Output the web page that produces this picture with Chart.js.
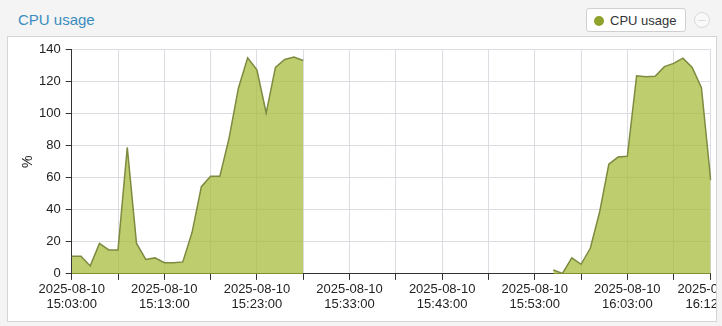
<!DOCTYPE html>
<html>
<head>
<meta charset="utf-8">
<title>CPU usage</title>
<script src="https://cdn.jsdelivr.net/npm/chart.js@4/dist/chart.umd.min.js"></script>
<style>
  html, body { margin: 0; padding: 0; }
  body {
    width: 722px; height: 326px; overflow: hidden; position: relative;
    background: #f4f4f4;
    font-family: "Liberation Sans", Arial, sans-serif;
  }
  .chart-title {
    position: absolute; left: 18px; top: 12px;
    font-size: 15px; line-height: 15px; color: #3a8cc0;
  }
  .legend {
    position: absolute; left: 586px; top: 8px; width: 100px; height: 24px;
    box-sizing: border-box; border: 1px solid #cfcfcf; border-radius: 3px;
    background: #fff; font-size: 13px; color: #333;
    display: flex; align-items: center;
  }
  .legend-item { display: flex; align-items: center; padding-left: 7px; }
  .legend-dot { width: 10px; height: 10px; border-radius: 50%; margin-right: 6px; margin-top: 2px; }
  .collapse-btn {
    position: absolute; left: 694px; top: 12px; width: 16px; height: 16px;
    box-sizing: border-box; border: 1px solid #dadada; border-radius: 50%; background: #f9f9f9;
  }
  .collapse-btn::after {
    content: ''; position: absolute; left: 3px; right: 3px; top: 7px; height: 1px; background: #dcdcdc;
  }
  .panel {
    position: absolute; left: 7px; top: 36px; width: 710px; height: 286px;
    box-sizing: border-box; border: 1px solid #d4d4d4; background: #fff; overflow: hidden;
  }
  .panel canvas { display: block; }
</style>
</head>
<body>
<div class="chart-title">CPU usage</div>
<div class="legend" id="legend"></div>
<div class="collapse-btn"></div>
<div class="panel"><canvas id="cpu-chart" width="708" height="284"></canvas></div>

<script>
// one sample per minute, 2025-08-10
const day = '2025-08-10';
const times = [
  '15:03', '15:04', '15:05', '15:06', '15:07', '15:08', '15:09', '15:10', '15:11', '15:12',
  '15:13', '15:14', '15:15', '15:16', '15:17', '15:18', '15:19', '15:20', '15:21', '15:22',
  '15:23', '15:24', '15:25', '15:26', '15:27', '15:28', '15:29', '15:30', '15:31', '15:32',
  '15:33', '15:34', '15:35', '15:36', '15:37', '15:38', '15:39', '15:40', '15:41', '15:42',
  '15:43', '15:44', '15:45', '15:46', '15:47', '15:48', '15:49', '15:50', '15:51', '15:52',
  '15:53', '15:54', '15:55', '15:56', '15:57', '15:58', '15:59', '16:00', '16:01', '16:02',
  '16:03', '16:04', '16:05', '16:06', '16:07', '16:08', '16:09', '16:10', '16:11', '16:12'
];

// CPU usage in %, null = no data
const cpuUsage = [
  11, 11, 5, 19, 15, 15, 79, 19, 9, 10,
  7, 7, 7.5, 26, 54.5, 61, 61, 85, 116, 135,
  127.5, 100.5, 129, 134, 135.5, 133.3, null, null, null, null,
  null, null, null, null, null, null, null, null, null, null,
  null, null, null, null, null, null, null, null, null, null,
  null, null, 2.4, 0.3, 10, 6, 16, 38.5, 68.5, 73,
  73.5, 123.8, 123.2, 123.5, 129.5, 131.5, 134.8, 129, 116.3, 58.5
];

// x axis: labelled ticks and grid/tick-mark positions
const tickLabels = ['15:03', '15:13', '15:23', '15:33', '15:43', '15:53', '16:03', '16:12'];
const gridTimes = [
  '15:03', '15:08', '15:13', '15:18', '15:23', '15:28', '15:33', '15:38', '15:43', '15:48',
  '15:53', '15:58', '16:03', '16:08', '16:12'
];

// y axis
const yMin = 0;
const yMax = 140;
const yStep = 20;

Chart.defaults.font.family = '"Liberation Sans", Arial, sans-serif';
Chart.defaults.color = '#333';

const gridColor = '#dcdce3';
const axisColor = '#333';

// builds the boxed legend at the top right
const htmlLegend = {
  id: 'htmlLegend',
  afterUpdate(chart) {
    const box = document.getElementById('legend');
    box.innerHTML = '';
    chart.data.datasets.forEach(ds => {
      const item = document.createElement('div');
      item.className = 'legend-item';
      const dot = document.createElement('span');
      dot.className = 'legend-dot';
      dot.style.background = ds.pointBackgroundColor;
      const text = document.createElement('span');
      text.textContent = ds.label;
      item.appendChild(dot);
      item.appendChild(text);
      box.appendChild(item);
    });
  }
};

new Chart(document.getElementById('cpu-chart'), {
  type: 'line',
  data: {
    labels: times,
    datasets: [{
      label: 'CPU usage',
      data: cpuUsage,
      borderColor: '#7b8b3f',
      backgroundColor: 'rgba(162, 185, 48, 0.7)',
      pointBackgroundColor: '#8fa22c',
      borderWidth: 1.5,
      pointRadius: 0,
      pointHoverRadius: 0,
      fill: 'origin',
      tension: 0,
      spanGaps: false
    }]
  },
  options: {
    responsive: false,
    animation: false,
    devicePixelRatio: 1,
    layout: { padding: { left: 0, top: 11.3, right: 5.3, bottom: 0 } },
    plugins: {
      legend: { display: false },
      tooltip: { enabled: false }
    },
    scales: {
      x: {
        type: 'category',
        offset: false,
        border: { color: axisColor, width: 1 },
        grid: {
          color: ctx => gridTimes.includes(times[ctx.index]) ? gridColor : 'transparent',
          tickColor: ctx => gridTimes.includes(times[ctx.index]) ? axisColor : 'transparent',
          tickLength: 6,
          drawTicks: true
        },
        ticks: {
          autoSkip: false,
          maxRotation: 0,
          minRotation: 0,
          padding: 3,
          color: '#222',
          font: { size: 13, lineHeight: 1.08 },
          callback: function(value, index) {
            const t = times[index];
            return tickLabels.includes(t) ? [day, t + ':00'] : '';
          }
        },
        afterFit(scale) {
          scale.height = 47.1;
          scale.paddingLeft = 0;
          scale.paddingRight = 0;
        }
      },
      y: {
        min: yMin,
        max: yMax,
        border: { color: axisColor, width: 1 },
        grid: { color: gridColor, tickColor: axisColor, tickLength: 6 },
        ticks: {
          stepSize: yStep,
          padding: 5,
          color: '#222',
          font: { size: 13 }
        },
        title: {
          display: true,
          text: '%',
          color: '#222',
          font: { size: 14, lineHeight: 1.2 },
          padding: { top: 12, bottom: 0 }
        },
        afterFit(scale) {
          scale.width = 63.7;
        }
      }
    }
  },
  plugins: [htmlLegend]
});
</script>
</body>
</html>
